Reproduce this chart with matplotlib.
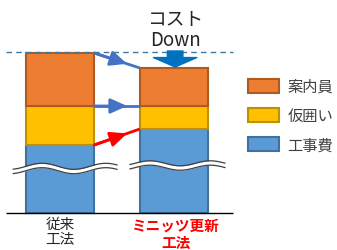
import numpy as np
import matplotlib
matplotlib.use('Agg')
import matplotlib.pyplot as plt

plt.rcParams['font.family'] = ['Noto Sans CJK JP', 'DejaVu Sans']

# datos (altura de cada tramo, eje partido)
categories = ['従来\n工法', 'ミニッツ更新\n工法']
construction = [68, 84]   # 工事費
hoarding = [39, 23]       # 仮囲い
guide = [53, 38]          # 案内員
series_names = ['案内員', '仮囲い', '工事費']

x = np.arange(len(categories))
w = 0.6
bottom2 = np.array(construction) + np.array(hoarding)
totals = bottom2 + np.array(guide)

fig = plt.figure(figsize=(3.37, 2.51), dpi=100)
ax = fig.add_axes([0, 0, 1, 1])
ax.set_xlim(-60 / 114, 277 / 114)
ax.set_ylim(-37, 214)
ax.axis('off')

b_cons = ax.bar(x, construction, w, color='#5B9BD5', edgecolor='#41719C', lw=1.5, zorder=2)
b_hoard = ax.bar(x, hoarding, w, bottom=construction, color='#FFC000', edgecolor='#BF9000', lw=1.5, zorder=2)
b_guide = ax.bar(x, guide, w, bottom=bottom2, color='#ED7D31', edgecolor='#AE5A21', lw=1.5, zorder=2)

# linea base y linea de referencia
ax.hlines(0, -0.47, 1.52, color='black', lw=1, zorder=3)
ax.hlines(totals[0] + 1.5, -0.47, 1.52, color='#3F7A9E', lw=1, linestyles=(0, (4, 3)), zorder=4)

# flechas entre barras
def mid_arrow(y0, y1, color):
    x0, x1 = x[0] + w / 2, x[1] - w / 2
    ax.plot([x0, x1], [y0, y1], color=color, lw=2, zorder=3, solid_capstyle='butt')
    f = 0.72
    ax.annotate('', xy=(x0 + f * (x1 - x0), y0 + f * (y1 - y0)), xytext=(x0, y0),
                arrowprops=dict(arrowstyle='-|>,head_length=1.0,head_width=0.45', lw=2,
                                color=color, shrinkA=0, shrinkB=0), zorder=3)

mid_arrow(totals[0], totals[1], '#4472C4')
mid_arrow(bottom2[0], bottom2[1], '#4472C4')
mid_arrow(construction[0], construction[1], '#FF0000')

# flecha "Down"
ax.annotate('', xy=(x[1] + 0.01, totals[1] + 1), xytext=(x[1] + 0.01, totals[0] + 2),
            arrowprops=dict(arrowstyle='simple,head_length=0.17,head_width=0.78,tail_width=0.28',
                            mutation_scale=40, color='#0070C0', shrinkA=0, shrinkB=0), zorder=5)
ax.text(x[1] + 0.01, 195, 'コスト', ha='center', va='center', fontsize=13.5, color='#262626')
ax.text(x[1] + 0.01, 173, 'Down', ha='center', va='center', fontsize=13.5, color='#262626')

# marcas de corte (ondas)
def wave(x0, x1, yc, xc, period, amp):
    xs = np.linspace(x0, x1, 120)
    ys = yc + amp * np.cos(2 * np.pi * (xs - xc) / period)
    ax.fill_between(xs, ys - 2.2, ys + 2.2, color='white', lw=0, zorder=6)
    ax.plot(xs, ys + 2.2, color='#404040', lw=0.9, zorder=7)
    ax.plot(xs, ys - 2.2, color='#404040', lw=0.9, zorder=7)

wave(-0.41, 0.5, 44.5, -0.158, 0.56, 3.0)
wave(0.614, 1.447, 47.5, 0.789, 0.53, 2.5)

# etiquetas
ax.text(x[0], -4, categories[0], ha='center', va='top', fontsize=10.5,
        linespacing=1.05, color='#262626')
ax.text(x[1] + 0.02, -4, categories[1], ha='center', va='top', fontsize=10.5,
        linespacing=1.05, color='#FF0000', fontweight='bold')

leg = ax.legend([b_guide, b_hoard, b_cons], series_names, loc='upper left',
                bbox_to_anchor=(248 / 337, 1 - 79 / 251), bbox_transform=fig.transFigure,
                frameon=False, fontsize=11, handlelength=2.0, handleheight=1.0,
                handletextpad=0.6, labelspacing=0.8, borderpad=0, borderaxespad=0)
for t in leg.get_texts():
    t.set_color('#404040')

plt.savefig('out.png', dpi=100)
